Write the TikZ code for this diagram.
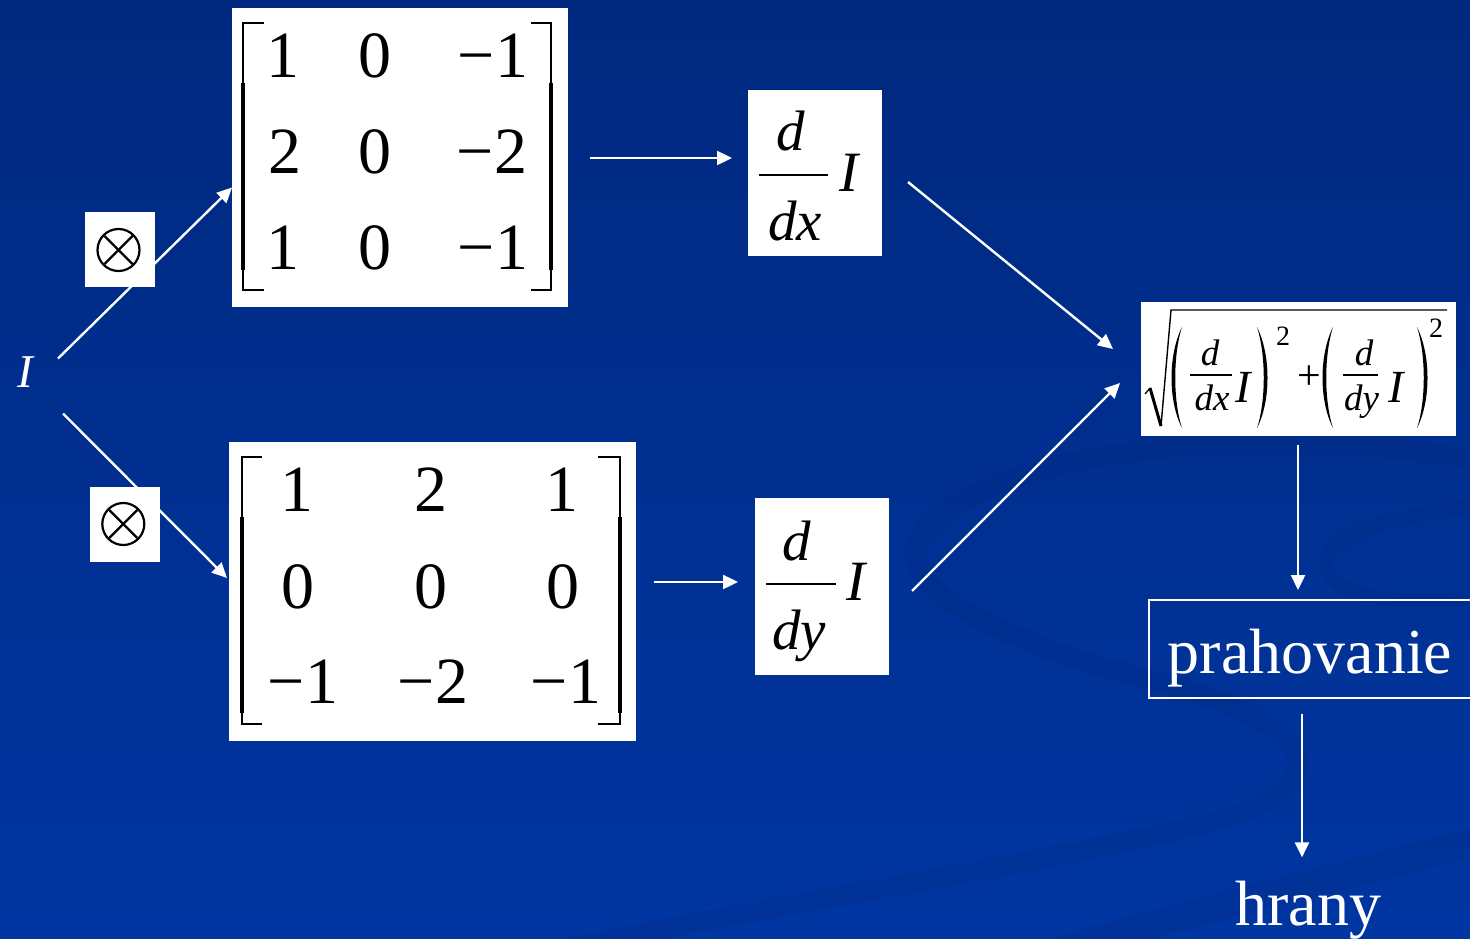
\documentclass[tikz,border=0pt]{standalone}
\usepackage{fontspec}
\setmainfont{Liberation Serif}
\usetikzlibrary{arrows.meta,calc}
\definecolor{bgtop}{HTML}{00287E}
\definecolor{bgbot}{HTML}{0036A2}
\definecolor{swirlc}{HTML}{00267A}
\begin{document}
\begin{tikzpicture}[x=1pt,y=-1pt,
  conn/.style={white, line width=2.4pt},
  arr/.style={conn, -{Triangle[length=15pt,width=14pt]}},
  wbox/.style={fill=white, draw=none, inner sep=0pt, outer sep=0pt},
  num/.style={anchor=base, inner sep=0pt, text=black, font=\fontsize{66}{66}\selectfont},
  frc/.style={anchor=base, inner sep=0pt, text=black, font=\fontsize{57}{57}\selectfont\itshape},
  smf/.style={anchor=base, inner sep=0pt, text=black, font=\fontsize{37}{37}\selectfont\itshape},
  smI/.style={anchor=base, inner sep=0pt, text=black, font=\fontsize{46}{46}\selectfont\itshape},
  sup/.style={anchor=base, inner sep=0pt, text=black, font=\fontsize{28}{28}\selectfont},
  wtxt/.style={anchor=base, inner sep=0pt, text=white, font=\fontsize{64}{64}\selectfont},
  brk/.style={black, line width=1.8pt},
  brkthick/.style={black, line width=3.2pt},
  fbar/.style={black, line width=2.2pt},
  otimesc/.style={circle, draw=black, line width=2.2pt, minimum size=42pt, inner sep=0pt},
  swirl/.style={swirlc, opacity=0.2, line width=20pt, line cap=round}
]
% background
\shade[top color=bgtop, bottom color=bgbot] (0,0) rectangle (1470,939);
\useasboundingbox (0,0) rectangle (1470,939);
\begin{scope}
\clip (0,0) rectangle (1470,939);
\draw[swirl] (1490,462) .. controls (1250,420) and (1000,450) .. (925,530)
  .. controls (880,585) and (1000,640) .. (1150,680)
  .. controls (1310,720) and (1360,785) .. (1200,825)
  .. controls (1050,862) and (800,900) .. (560,950);
\draw[swirl, line width=14pt] (1490,505) .. controls (1380,515) and (1290,545) .. (1340,585)
  .. controls (1370,605) and (1430,600) .. (1490,598);
\draw[swirl, line width=28pt] (1490,838) .. controls (1350,875) and (1200,910) .. (1060,950);
\end{scope}

% nodes: boxes
\node[wbox, minimum width=336pt, minimum height=299pt] (m1) at (400,157.5) {};
\node[wbox, minimum width=407pt, minimum height=299pt] (m2) at (432.5,591.5) {};
\node[wbox, minimum width=134pt, minimum height=166pt] (dx) at (815,173) {};
\node[wbox, minimum width=134pt, minimum height=177pt] (dy) at (822,586.5) {};
\node[wbox, minimum width=315pt, minimum height=134pt] (sq) at (1298.5,369) {};
\node[draw=white, line width=2pt, inner sep=0pt, minimum width=326pt, minimum height=98pt] (pr) at (1312,649) {};
\node[anchor=center, inner sep=0pt, text=white, font=\fontsize{47}{47}\selectfont\itshape] (I) at (25,372.5) {I};
\node[wtxt] (prt) at (1310,673) {prahovanie};
\node[wtxt] (hr) at (1308.5,925) {hrany};

% connectors
\draw[arr] ($(I.center)+(33,-14)$) -- ($(m1.west)+(0,30)$);
\draw[arr] ($(I.center)+(38,41)$) -- ($(m2.west)+(-2,-13.5)$);
\draw[arr] ($(m1.east)+(22,0.5)$) -- ($(dx.west)+(-16,-15)$);
\draw[arr] ($(m2.east)+(18,-9.5)$) -- ($(dy.west)+(-17,-4.5)$);
\draw[arr] ($(dx.east)+(26,9)$) -- ($(sq.west)+(-28,-20)$);
\draw[arr] ($(dy.east)+(23,4.5)$) -- ($(sq.west)+(-21,14)$);
\draw[arr] ($(sq.south)+(-0.5,9)$) -- ($(pr.north)+(-14,-9)$);
\draw[arr] ($(pr.south)+(-10,15)$) -- ($(hr.north)+(-6.5,-23)$);

% otimes boxes
\node[wbox, minimum width=70pt, minimum height=75pt] (ob1) at (120,249.5) {};
\node[otimesc] (oc1) at (118.5,250) {};
\draw[black, line width=2.2pt] ($(oc1)+(-14,-14)$) -- ($(oc1)+(14,14)$);
\draw[black, line width=2.2pt] ($(oc1)+(-14,14)$) -- ($(oc1)+(14,-14)$);
\node[wbox, minimum width=70pt, minimum height=75pt] (ob2) at (125,524.5) {};
\node[otimesc] (oc2) at (123.3,524) {};
\draw[black, line width=2.2pt] ($(oc2)+(-14,-14)$) -- ($(oc2)+(14,14)$);
\draw[black, line width=2.2pt] ($(oc2)+(-14,14)$) -- ($(oc2)+(14,-14)$);

% matrix 1
\node[num] (m1a) at (283,78) {1};
\node[num] (m1b) at (375,78) {0};
\node[num] (m1c) at (493,78) {−1};
\node[num] (m1d) at (285,173) {2};
\node[num] (m1e) at (375,173) {0};
\node[num] (m1f) at (492,173) {−2};
\node[num] (m1g) at (283,269) {1};
\node[num] (m1h) at (375,269) {0};
\node[num] (m1i) at (493,269) {−1};
\draw[brk] (264,23) -- (243,23) -- (243,290) -- (264,290);
\draw[brkthick] (243,83) -- (243,270);
\draw[brk] (531,23) -- (551,23) -- (551,290) -- (531,290);
\draw[brkthick] (551,83) -- (551,270);

% matrix 2
\node[num] (m2a) at (297,511) {1};
\node[num] (m2b) at (431,511) {2};
\node[num] (m2c) at (562,511) {1};
\node[num] (m2d) at (298,608) {0};
\node[num] (m2e) at (431,608) {0};
\node[num] (m2f) at (563,608) {0};
\node[num] (m2g) at (303,703) {−1};
\node[num] (m2h) at (433,703) {−2};
\node[num] (m2i) at (566,703) {−1};
\draw[brk] (262,457) -- (242,457) -- (242,724) -- (262,724);
\draw[brkthick] (242,517) -- (242,713);
\draw[brk] (598,457) -- (620,457) -- (620,724) -- (598,724);
\draw[brkthick] (620,517) -- (620,713);

% d/dx I
\node[frc] (dxn) at (791,151) {d};
\draw[fbar] (759,175) -- (828,175);
\node[frc] (dxd) at (795,240) {dx};
\node[frc] (dxI) at (849,191) {I};

% d/dy I
\node[frc] (dyn) at (797,560) {d};
\draw[fbar] (766,584) -- (836,584);
\node[frc] (dyd) at (799,649) {dy};
\node[frc] (dyI) at (856,600) {I};

% sqrt expression
\draw[black, line width=1.3pt] (1145,394) -- (1150,388);
\draw[black, line width=3pt] (1150,388) -- (1161,426);
\draw[black, line width=1.4pt] (1161,426) -- (1171,310) -- (1447,310);
% parentheses
\fill[black] (1182,327) .. controls (1168,355) and (1168,401) .. (1182,428)
  .. controls (1173,401) and (1173,355) .. (1182,327) -- cycle;
\fill[black] (1257,327) .. controls (1271,355) and (1271,401) .. (1257,428)
  .. controls (1266,401) and (1266,355) .. (1257,327) -- cycle;
\fill[black, shift={(151,0)}] (1182,327) .. controls (1168,355) and (1168,401) .. (1182,428)
  .. controls (1173,401) and (1173,355) .. (1182,327) -- cycle;
\fill[black, shift={(160,0)}] (1257,327) .. controls (1271,355) and (1271,401) .. (1257,428)
  .. controls (1266,401) and (1266,355) .. (1257,327) -- cycle;
\node[smf] (s1n) at (1210,365) {d};
\draw[black, line width=1.5pt] (1190,375) -- (1232,375);
\node[smf] (s1d) at (1212,410) {dx};
\node[smI] (s1I) at (1243,402) {I};
\node[sup] (s1s) at (1283,345) {2};
\node[anchor=center, inner sep=0pt, text=black, font=\fontsize{42}{42}\selectfont] (plus) at (1309,378) {+};
\node[smf] (s2n) at (1364,365) {d};
\draw[black, line width=1.5pt] (1343,375) -- (1378,375);
\node[smf] (s2d) at (1361.5,410) {dy};
\node[smI] (s2I) at (1396,402) {I};
\node[sup] (s2s) at (1436,337) {2};
\end{tikzpicture}
\end{document}
